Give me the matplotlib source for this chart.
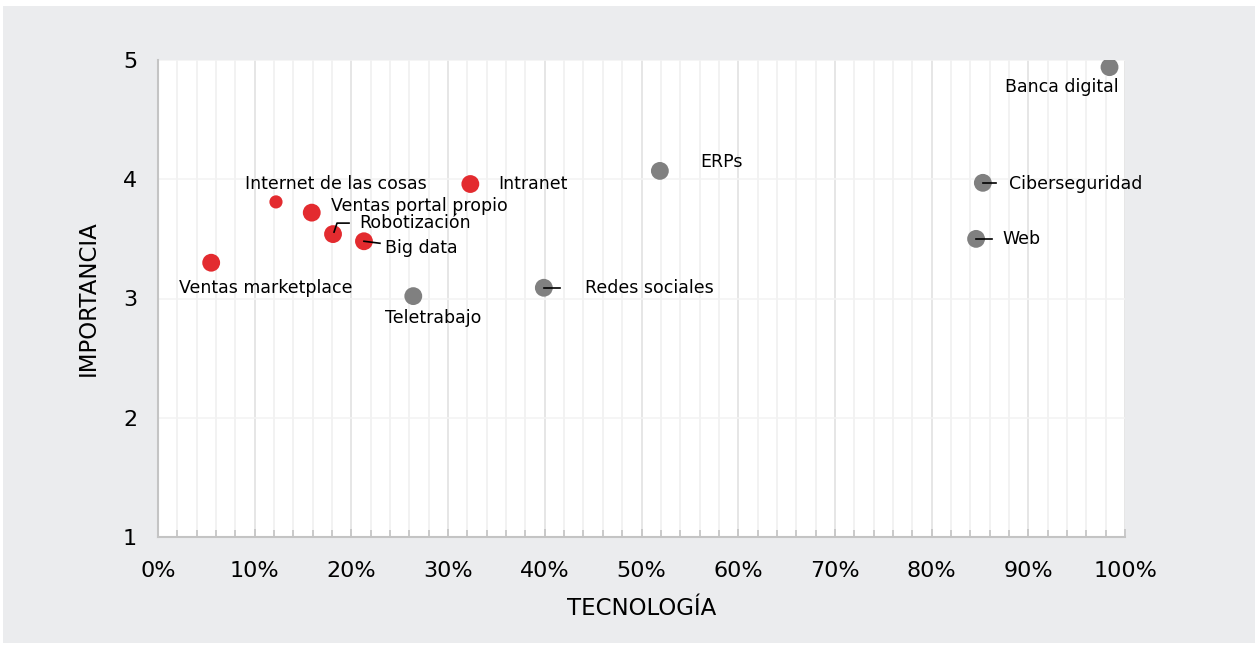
import numpy as np
import matplotlib.pyplot as plt
from matplotlib.patches import Rectangle
from matplotlib.transforms import IdentityTransform
from matplotlib.ticker import MultipleLocator, FuncFormatter

plt.rcParams['font.family'] = ['DejaVu Sans']

names = ['Banca digital', 'ERPs', 'Intranet', 'Ciberseguridad', 'Web',
         'Internet de las cosas', 'Ventas portal propio', 'Robotización',
         'Big data', 'Ventas marketplace', 'Teletrabajo', 'Redes sociales']
tecnologia = [98.4, 51.9, 32.3, 85.3, 84.6, 12.2, 15.9, 18.1, 21.3, 5.5, 26.4, 39.9]
importancia = [4.94, 4.07, 3.96, 3.97, 3.50, 3.81, 3.72, 3.54, 3.48, 3.30, 3.02, 3.09]
grupo = ['gris', 'gris', 'rojo', 'gris', 'gris', 'rojo', 'rojo', 'rojo',
         'rojo', 'rojo', 'gris', 'gris']

colores = {'rojo': '#e32b2f', 'gris': '#808080'}

# label placement: (dx, dy) in pixels from the point, horizontal alignment
etiquetas = {
    'Banca digital': (-48, -20, 'center'),
    'ERPs': (40, 9, 'left'),
    'Intranet': (28, 0, 'left'),
    'Ciberseguridad': (26, -1, 'left'),
    'Web': (26, 0, 'left'),
    'Internet de las cosas': (-31, 18, 'left'),
    'Ventas portal propio': (19, 7, 'left'),
    'Robotización': (26, 11, 'left'),
    'Big data': (21, -7, 'left'),
    'Ventas marketplace': (-32, -25, 'left'),
    'Teletrabajo': (-28, -22, 'left'),
    'Redes sociales': (41, 0, 'left'),
}
# leader lines, pixel offsets from the point
guias = {
    'Ciberseguridad': [(0, 0), (13, 0)],
    'Web': [(0, 0), (16, 0)],
    'Robotización': [(1, 2), (4, 11), (16, 11)],
    'Big data': [(0, 0), (16, -2)],
    'Redes sociales': [(0, 0), (16, 0)],
}

fig = plt.figure(figsize=(12.58, 6.46), dpi=100, facecolor='white')
fig.patches.append(Rectangle((3, 3), 1252, 637, transform=IdentityTransform(),
                             facecolor='#ebecee', edgecolor='none', zorder=-10))

ax = fig.add_axes([158 / 1258, 1 - 537 / 646, 967 / 1258, 477 / 646])
ax.set_facecolor('white')
ax.set_xlim(0, 100)
ax.set_ylim(1, 5)

ax.xaxis.set_major_locator(MultipleLocator(10))
ax.xaxis.set_minor_locator(MultipleLocator(2))
ax.yaxis.set_major_locator(MultipleLocator(1))
ax.xaxis.set_major_formatter(FuncFormatter(lambda v, p: f'{v:.0f}%'))

ax.grid(axis='x', which='minor', color='#f0f0f0', lw=1.2)
ax.grid(axis='x', which='major', color='#e2e2e2', lw=1.2)
ax.grid(axis='y', which='major', color='#f3f3f3', lw=1.2)
ax.set_axisbelow(True)

for s in ['top', 'right']:
    ax.spines[s].set_visible(False)
for s in ['left', 'bottom']:
    ax.spines[s].set_color('#c4c4c4')
    ax.spines[s].set_linewidth(1.5)

ax.tick_params(axis='x', which='both', direction='in', color='#c4c4c4',
               labelsize=16, pad=17)
ax.tick_params(axis='x', which='major', length=6, width=1.2)
ax.tick_params(axis='x', which='minor', length=5, width=1.2)
ax.tick_params(axis='y', length=0, labelsize=16, pad=15)

ax.set_xlabel('TECNOLOGÍA', fontsize=16.5, labelpad=12)
ax.set_ylabel('IMPORTANCIA', fontsize=16.5, labelpad=17)

for n, x, y, g in zip(names, tecnologia, importancia, grupo):
    size = 90 if n == 'Internet de las cosas' else 165
    ax.scatter(x, y, s=size, color=colores[g], edgecolor='none', zorder=3)
    dx, dy, ha = etiquetas[n]
    ax.annotate(n, (x, y), xytext=(dx, dy), textcoords='offset pixels',
                ha=ha, va='center', fontsize=12.5, zorder=5,
                annotation_clip=False)

for n, pts in guias.items():
    i = names.index(n)
    px, py = ax.transData.transform((tecnologia[i], importancia[i]))
    xs = [px + a for a, b in pts]
    ys = [py + b for a, b in pts]
    ax.plot(xs, ys, color='black', lw=1.2, transform=IdentityTransform(),
            zorder=4, clip_on=False)

fig.savefig('out.png', dpi=100, facecolor=fig.get_facecolor())
